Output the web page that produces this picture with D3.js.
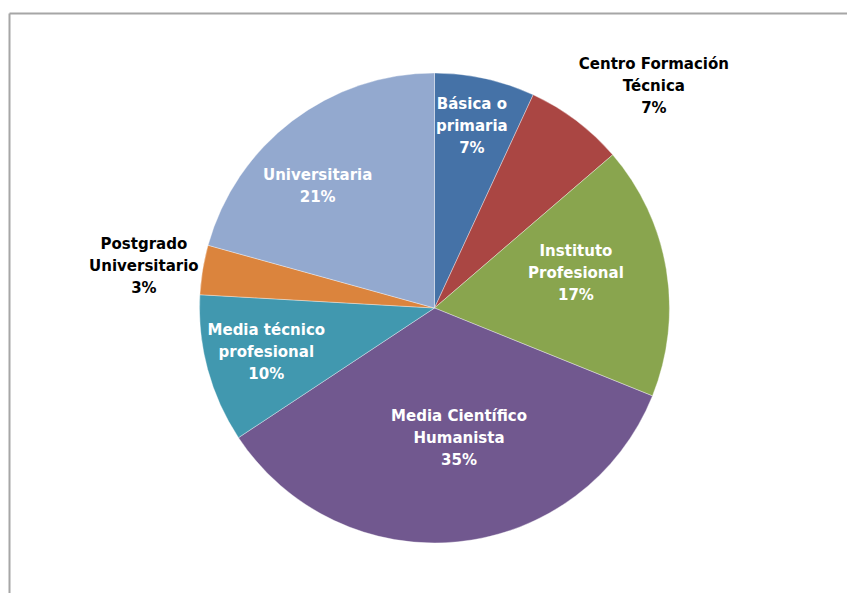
<!DOCTYPE html>
<html>
<head>
<meta charset="utf-8">
<script src="https://cdn.jsdelivr.net/npm/d3@7"></script>
<style>
  html, body { margin: 0; padding: 0; background: #fff; }
  svg { display: block; }
</style>
</head>
<body>
<svg id="chart" width="847" height="593"></svg>
<script>
// ---- data ----
const categories = [
  ["Básica o", "primaria"],
  ["Centro Formación", "Técnica"],
  ["Instituto", "Profesional"],
  ["Media Científico", "Humanista"],
  ["Media técnico", "profesional"],
  ["Postgrado", "Universitario"],
  ["Universitaria"]
];
const values = [6.9, 6.8, 17.4, 34.6, 10.2, 3.4, 20.7];
const colors = ["#4572A7", "#AA4643", "#89A54E", "#71588F", "#4198AF", "#DB843D", "#93A9CF"];

// label placement (presentation): radius fraction, angle offset (deg), outside?
const labelPlace = [
  { r: 0.79, da: -0.8, outside: false },
  { r: 1.33, da: 7.5, outside: true },
  { r: 0.62, da: -4.5, outside: false },
  { r: 0.56, da: -5, outside: false },
  { r: 0.74, da: 0.4, outside: false },
  { r: 1.25, da: -1, outside: true },
  { r: 0.72, da: -6.4, outside: false }
];

const svg = d3.select("#chart");
const W = 847, H = 593;

// frame (top and left edges visible)
svg.append("line").attr("x1", 9.5).attr("y1", 13.5).attr("x2", W).attr("y2", 13.5)
  .attr("stroke", "#a6a6a6").attr("stroke-width", 2);
svg.append("line").attr("x1", 9.5).attr("y1", 13.5).attr("x2", 9.5).attr("y2", H)
  .attr("stroke", "#a6a6a6").attr("stroke-width", 2);

const cx = 434.5, cy = 308, R = 235;
const g = svg.append("g").attr("transform", `translate(${cx},${cy})`);

const pie = d3.pie().sort(null).value(d => d);
const arcs = pie(values);
const arc = d3.arc().innerRadius(0).outerRadius(R);

g.selectAll("path.slice").data(arcs).join("path")
  .attr("class", "slice")
  .attr("d", arc)
  .attr("fill", (d, i) => colors[i])
  .attr("stroke", "#ffffff")
  .attr("stroke-opacity", 0.6)
  .attr("stroke-width", 0.6);

const total = d3.sum(values);
const lineH = 22;

arcs.forEach((d, i) => {
  const p = labelPlace[i];
  const mid = (d.startAngle + d.endAngle) / 2 + p.da * Math.PI / 180;
  const r = p.r * R;
  const x = Math.sin(mid) * r;
  const y = -Math.cos(mid) * r;
  const lines = categories[i].concat([Math.round(values[i] / total * 100) + "%"]);
  const t = g.append("text")
    .attr("text-anchor", "middle")
    .attr("font-family", "'DejaVu Sans', sans-serif")
    .attr("font-weight", 700)
    .attr("font-size", 15)
    .attr("fill", p.outside ? "#000000" : "#ffffff");
  const n = lines.length;
  lines.forEach((s, k) => {
    t.append("tspan")
      .attr("x", x)
      .attr("y", y + (k - (n - 1) / 2) * lineH)
      .attr("dy", "0.35em")
      .text(s);
  });
});
</script>
</body>
</html>
